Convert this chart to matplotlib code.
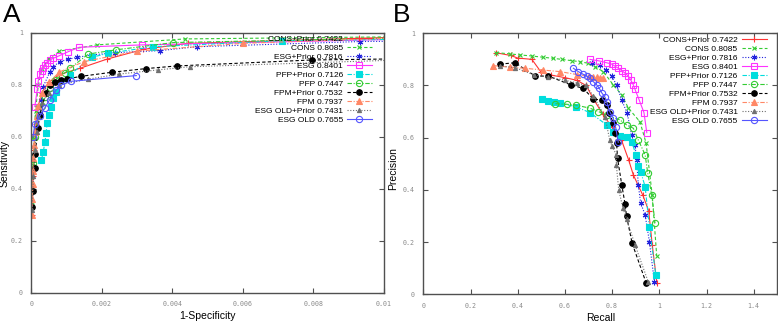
import matplotlib
matplotlib.use("Agg")
import matplotlib.pyplot as plt

plt.rcParams['font.family'] = ['Liberation Sans', 'DejaVu Sans']

# ---------------- data ----------------
labels = ["CONS+Prior 0.7422", "CONS 0.8085", "ESG+Prior 0.7816", "ESG 0.8401",
          "PFP+Prior 0.7126", "PFP 0.7447", "FPM+Prior 0.7532", "FPM 0.7937",
          "ESG OLD+Prior 0.7431", "ESG OLD 0.7655"]

# Panel A: ROC (x = 1-Specificity, y = Sensitivity)
roc_cons_prior_x = [0.00003, 0.00005, 0.00008, 0.00012, 0.0002, 0.0003, 0.0005, 0.0008, 0.00138, 0.00214, 0.00318, 0.00445, 0.0102]
roc_cons_prior_y = [0.30, 0.45, 0.55, 0.65, 0.72, 0.77, 0.81, 0.84, 0.864, 0.899, 0.937, 0.960, 0.983]
roc_cons_x = [0.00003, 0.00005, 0.00008, 0.00012, 0.0002, 0.0003, 0.0005, 0.0008, 0.00186, 0.00436, 0.0102]
roc_cons_y = [0.35, 0.50, 0.60, 0.70, 0.80, 0.86, 0.90, 0.93, 0.954, 0.977, 0.985]
roc_esg_prior_x = [0.00025, 0.00028, 0.00034, 0.00053, 0.00062, 0.00081, 0.00105, 0.0013, 0.00169, 0.00237, 0.00365, 0.00469, 0.00933, 0.0102]
roc_esg_prior_y = [0.691, 0.742, 0.794, 0.851, 0.870, 0.890, 0.899, 0.906, 0.915, 0.924, 0.932, 0.947, 0.967, 0.968]
roc_esg_x = [0.0001, 0.00017, 0.0002, 0.00025, 0.0003, 0.00034, 0.00039, 0.00044, 0.00053, 0.00063, 0.00079, 0.00105, 0.00136, 0.00313, 0.0102]
roc_esg_y = [0.717, 0.783, 0.817, 0.842, 0.855, 0.867, 0.877, 0.883, 0.896, 0.903, 0.912, 0.928, 0.945, 0.954, 0.975]
roc_pfp_prior_x = [0.00029, 0.00034, 0.00039, 0.00042, 0.00045, 0.00051, 0.00055, 0.00062, 0.0007, 0.0011, 0.00171, 0.00218, 0.00346, 0.0071, 0.0102]
roc_pfp_prior_y = [0.512, 0.543, 0.582, 0.614, 0.653, 0.685, 0.717, 0.749, 0.774, 0.84, 0.906, 0.922, 0.947, 0.970, 0.975]
roc_pfp_x = [0.00005, 0.0001, 0.0002, 0.0003, 0.0004, 0.00053, 0.00067, 0.00096, 0.0011, 0.00162, 0.0024, 0.00403, 0.0102]
roc_pfp_y = [0.50, 0.60, 0.68, 0.72, 0.755, 0.787, 0.82, 0.847, 0.864, 0.919, 0.935, 0.963, 0.980]
roc_fpm_prior_x = [0.00003, 0.00004, 0.0001, 0.00011, 0.00019, 0.00024, 0.00041, 0.00052, 0.00068, 0.00085, 0.00102, 0.0014, 0.0023, 0.00326, 0.00412, 0.00795, 0.0102]
roc_fpm_prior_y = [0.33, 0.393, 0.48, 0.535, 0.635, 0.683, 0.768, 0.80, 0.81, 0.82, 0.823, 0.833, 0.849, 0.863, 0.873, 0.896, 0.90]
roc_fpm_x = [0.00002, 0.00003, 0.00004, 0.00005, 0.00006, 0.00008, 0.0001, 0.00015, 0.0002, 0.0003, 0.0005, 0.0008, 0.0015, 0.003, 0.006, 0.0102]
roc_fpm_y = [0.30, 0.36, 0.42, 0.47, 0.52, 0.57, 0.62, 0.68, 0.72, 0.77, 0.81, 0.85, 0.89, 0.93, 0.96, 0.98]
roc_esgold_prior_x = [0.00003, 0.00006, 0.0001, 0.00015, 0.0002, 0.0003, 0.0005, 0.0008, 0.0016, 0.0025, 0.0036, 0.0045, 0.0102]
roc_esgold_prior_y = [0.32, 0.45, 0.55, 0.62, 0.68, 0.73, 0.77, 0.80, 0.822, 0.842, 0.858, 0.870, 0.895]
roc_esgold_x = [0.00005, 0.0001, 0.00024, 0.00038, 0.00052, 0.00071, 0.00085, 0.00113, 0.00298]
roc_esgold_y = [0.60, 0.65, 0.68, 0.711, 0.743, 0.782, 0.80, 0.814, 0.836]

# Panel B: Precision-Recall
pr_cons_prior_x = [0.31, 0.37, 0.40, 0.46, 0.50, 0.54, 0.60, 0.65, 0.69, 0.72, 0.76, 0.80, 0.84, 0.87, 0.89, 0.93, 0.955, 0.97, 0.99]
pr_cons_prior_y = [0.925, 0.915, 0.905, 0.90, 0.85, 0.84, 0.83, 0.82, 0.80, 0.75, 0.69, 0.64, 0.59, 0.515, 0.457, 0.38, 0.32, 0.19, 0.042]
pr_cons_x = [0.308, 0.367, 0.41, 0.459, 0.508, 0.551, 0.586, 0.629, 0.664, 0.699, 0.727, 0.763, 0.805, 0.841, 0.869, 0.918, 0.944, 0.97, 0.989]
pr_cons_y = [0.926, 0.921, 0.917, 0.913, 0.908, 0.904, 0.90, 0.895, 0.891, 0.885, 0.872, 0.853, 0.802, 0.764, 0.713, 0.661, 0.579, 0.38, 0.148]
pr_esg_prior_x = [0.713, 0.749, 0.775, 0.798, 0.819, 0.841, 0.864, 0.883, 0.897, 0.904, 0.911, 0.921, 0.94, 0.958, 0.979]
pr_esg_prior_y = [0.885, 0.879, 0.86, 0.836, 0.802, 0.744, 0.693, 0.61, 0.572, 0.515, 0.419, 0.349, 0.304, 0.202, 0.048]
pr_esg_x = [0.706, 0.746, 0.777, 0.798, 0.812, 0.826, 0.841, 0.855, 0.869, 0.879, 0.89, 0.897, 0.915, 0.935, 0.947]
pr_esg_y = [0.90, 0.894, 0.887, 0.882, 0.874, 0.866, 0.857, 0.847, 0.836, 0.821, 0.802, 0.785, 0.744, 0.696, 0.619]
pr_pfp_prior_x = [0.502, 0.53, 0.554, 0.58, 0.645, 0.706, 0.777, 0.805, 0.833, 0.862, 0.883, 0.901, 0.911, 0.921, 0.94, 0.958, 0.985]
pr_pfp_prior_y = [0.747, 0.742, 0.738, 0.732, 0.719, 0.696, 0.649, 0.623, 0.607, 0.604, 0.585, 0.534, 0.492, 0.47, 0.412, 0.257, 0.074]
pr_pfp_x = [0.56, 0.607, 0.645, 0.706, 0.742, 0.777, 0.833, 0.861, 0.89, 0.911, 0.94, 0.951, 0.968, 0.982]
pr_pfp_y = [0.73, 0.728, 0.725, 0.713, 0.70, 0.687, 0.668, 0.649, 0.636, 0.591, 0.534, 0.464, 0.38, 0.272]
pr_fpm_prior_x = [0.325, 0.389, 0.474, 0.53, 0.626, 0.678, 0.72, 0.756, 0.777, 0.788, 0.805, 0.813, 0.819, 0.823, 0.841, 0.855, 0.861, 0.885, 0.944]
pr_fpm_prior_y = [0.882, 0.887, 0.836, 0.836, 0.802, 0.789, 0.748, 0.744, 0.725, 0.696, 0.655, 0.617, 0.581, 0.521, 0.419, 0.345, 0.30, 0.195, 0.044]
pr_fpm_x = [0.297, 0.367, 0.43, 0.508, 0.58, 0.65, 0.70, 0.72, 0.735, 0.75, 0.76]
pr_fpm_y = [0.876, 0.87, 0.866, 0.859, 0.853, 0.842, 0.836, 0.834, 0.832, 0.83, 0.828]
pr_esgold_prior_x = [0.325, 0.39, 0.47, 0.53, 0.60, 0.65, 0.69, 0.72, 0.77, 0.79, 0.80, 0.818, 0.818, 0.828, 0.846, 0.862, 0.897, 0.953]
pr_esgold_prior_y = [0.875, 0.868, 0.84, 0.832, 0.82, 0.81, 0.80, 0.76, 0.68, 0.59, 0.568, 0.534, 0.495, 0.40, 0.33, 0.287, 0.189, 0.048]
pr_esgold_x = [0.636, 0.657, 0.675, 0.692, 0.706, 0.72, 0.735, 0.746, 0.756, 0.77, 0.777, 0.79, 0.805, 0.815, 0.826]
pr_esgold_y = [0.866, 0.853, 0.844, 0.836, 0.828, 0.815, 0.802, 0.789, 0.772, 0.755, 0.738, 0.70, 0.674, 0.64, 0.582]

roc_series = [(roc_cons_prior_x, roc_cons_prior_y), (roc_cons_x, roc_cons_y),
              (roc_esg_prior_x, roc_esg_prior_y), (roc_esg_x, roc_esg_y),
              (roc_pfp_prior_x, roc_pfp_prior_y), (roc_pfp_x, roc_pfp_y),
              (roc_fpm_prior_x, roc_fpm_prior_y), (roc_fpm_x, roc_fpm_y),
              (roc_esgold_prior_x, roc_esgold_prior_y), (roc_esgold_x, roc_esgold_y)]
pr_series = [(pr_cons_prior_x, pr_cons_prior_y), (pr_cons_x, pr_cons_y),
             (pr_esg_prior_x, pr_esg_prior_y), (pr_esg_x, pr_esg_y),
             (pr_pfp_prior_x, pr_pfp_prior_y), (pr_pfp_x, pr_pfp_y),
             (pr_fpm_prior_x, pr_fpm_prior_y), (pr_fpm_x, pr_fpm_y),
             (pr_esgold_prior_x, pr_esgold_prior_y), (pr_esgold_x, pr_esgold_y)]

roc_xticks = [0, 0.002, 0.004, 0.006, 0.008, 0.01]
roc_xticklabels = ["0", "0.002", "0.004", "0.006", "0.008", "0.01"]
pr_xticks = [0, 0.2, 0.4, 0.6, 0.8, 1.0, 1.2, 1.4]
pr_xticklabels = ["0", "0.2", "0.4", "0.6", "0.8", "1", "1.2", "1.4"]
yticks = [0, 0.2, 0.4, 0.6, 0.8, 1.0]
yticklabels = ["0", "0.2", "0.4", "0.6", "0.8", "1"]

# ---------------- styles ----------------
styles = [
    dict(color='#ff3333', ls='-', marker='+', ms=4.5, mfc='#ff3333'),
    dict(color='#33cc33', ls=(0, (3, 2)), marker='x', ms=3.5, mfc='#33cc33'),
    dict(color='#2222dd', ls=(0, (1, 1.5)), marker=(6, 2, 0), ms=4, mfc='#2222dd'),
    dict(color='#ff33ff', ls='-', marker='s', ms=4.5, mfc='none'),
    dict(color='#00dddd', ls=(0, (4, 1.5, 1, 1.5)), marker='s', ms=4, mfc='#00dddd'),
    dict(color='#33cc33', ls=(0, (4, 1.5, 1, 1.5)), marker='o', ms=4.5, mfc='none'),
    dict(color='black', ls=(0, (3, 2)), marker='o', ms=4, mfc='black'),
    dict(color='#ff8866', ls=(0, (4, 1.5, 1, 1.5)), marker='^', ms=4, mfc='#ff8866'),
    dict(color='#707070', ls=(0, (1, 1.5)), marker='^', ms=3, mfc='#707070'),
    dict(color='#5555ff', ls='-', marker='o', ms=4.5, mfc='none'),
]

fig = plt.figure(figsize=(7.78, 3.23), dpi=100)
axA = fig.add_axes([0.0402, 0.093, 0.4531, 0.805])
axB = fig.add_axes([0.5441, 0.089, 0.4550, 0.808])

tick_font = dict(family=['DejaVu Sans Mono'], size=4.8, color='#8a8a8a')


def style_axes(ax, xticks, xticklabels, xlim):
    ax.set_xlim(*xlim)
    ax.set_ylim(0, 1)
    ax.set_xticks(xticks)
    ax.set_xticklabels(xticklabels, fontdict=tick_font)
    ax.set_yticks(yticks)
    ax.set_yticklabels(yticklabels, fontdict=tick_font)
    ax.tick_params(direction='in', length=3.5, width=0.8, color='#505050',
                   top=True, right=True, pad=6)
    for sp in ax.spines.values():
        sp.set_color('#505050')
        sp.set_linewidth(1.0)


for ax, series in ((axA, roc_series), (axB, pr_series)):
    for (xs, ys), lab, st in zip(series, labels, styles):
        ax.plot(xs, ys, color=st['color'], ls=st['ls'], lw=0.8,
                marker=st['marker'], ms=st['ms'], mfc=st['mfc'],
                mec=st['color'], mew=0.8, label=lab)

style_axes(axA, roc_xticks, roc_xticklabels, (0, 0.01))
style_axes(axB, pr_xticks, pr_xticklabels, (0, 1.5))

axA.set_xlabel("1-Specificity", fontsize=7.5, labelpad=3)
axA.set_ylabel("Sensitivity", fontsize=7.5)
axA.yaxis.set_label_coords(-0.062, 0.5)
axB.set_xlabel("Recall", fontsize=7.5, labelpad=3)
axB.set_ylabel("Precision", fontsize=7.5)
axB.yaxis.set_label_coords(-0.072, 0.48)

leg_kw = dict(loc='upper right', frameon=False, markerfirst=False, fontsize=6.0,
              handlelength=3.0, handletextpad=0.5, labelspacing=0.14,
              borderpad=0, borderaxespad=0)
axA.legend(bbox_to_anchor=(0.9665, 0.992), **leg_kw)
axB.legend(bbox_to_anchor=(0.970, 0.990), **leg_kw)

fig.text(0.004, 0.99, "A", fontsize=19, va='top', ha='left')
fig.text(0.505, 0.99, "B", fontsize=19, va='top', ha='left')

fig.savefig("out.png", dpi=100)
